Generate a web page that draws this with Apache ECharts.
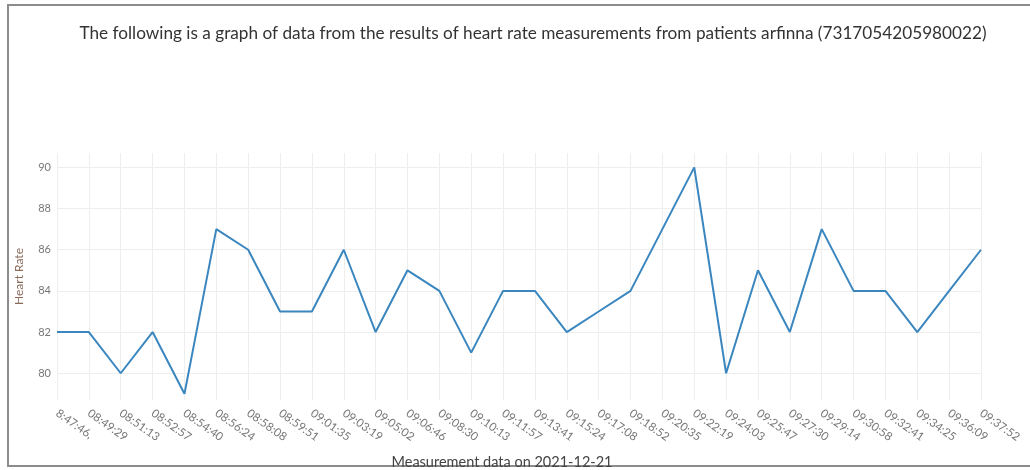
<!DOCTYPE html>
<html>
<head>
<meta charset="utf-8">
<script src="https://cdn.jsdelivr.net/npm/echarts@6/dist/echarts.min.js"></script>
<style>
html,body{margin:0;padding:0;background:#fff}
#chart{width:1030px;height:470px}
</style>
</head>
<body>
<div id="chart"></div>
<script>
// measurement times (x axis categories)
var times = ['8:47:46,','08:49:29','08:51:13','08:52:57','08:54:40','08:56:24','08:58:08','08:59:51',
	'09:01:35','09:03:19','09:05:02','09:06:46','09:08:30','09:10:13','09:11:57','09:13:41',
	'09:15:24','09:17:08','09:18:52','09:20:35','09:22:19','09:24:03','09:25:47','09:27:30',
	'09:29:14','09:30:58','09:32:41','09:34:25','09:36:09','09:37:52']
// heart rate values
var heartRate = [82,82,80,82,79,87,86,83,83,86,82,85,84,81,84,84,82,83,84,87,90,80,85,82,87,84,84,82,84,86]
var yTicks = [80,82,84,86,88,90]

var titleText = 'The following is a graph of data from the results of heart rate measurements from patients arfinna (7317054205980022)'
var font = 'Lato, "Open Sans", sans-serif'

var myChart = echarts.init(document.getElementById('chart'))
var option = {
	animation: false,
	title: [{
		text: titleText,
		left: 528,
		textAlign: 'center',
		top: 20,
		textStyle: {fontSize: 17.2, fontWeight: 'normal', color: '#333', fontFamily: font}
	},{
		text: 'Measurement data on 2021-12-21',
		left: 497,
		textAlign: 'center',
		top: 450,
		textStyle: {fontSize: 14.5, fontWeight: 'normal', color: '#444', fontFamily: font}
	}],
	graphic: [{
		type: 'rect',
		shape: {x: 8, y: 5, width: 1030, height: 461},
		style: {fill: 'none', stroke: '#8c8c8c', lineWidth: 2}
	}],
	grid: {left: 57, right: 49, top: 153, bottom: 70},
	xAxis: {
		type: 'category',
		boundaryGap: false,
		data: times,
		axisLine: {show: false},
		axisTick: {show: false},
		splitLine: {show: true, lineStyle: {color: '#eeeeee', width: 1}},
		axisLabel: {
			rotate: -35,
			interval: 0,
			margin: 12,
			fontSize: 11.5,
			color: '#777',
			fontFamily: font
		}
	},
	yAxis: {
		type: 'value',
		min: 78.7,
		max: 90.7,
		name: 'Heart Rate',
		nameLocation: 'middle',
		nameGap: 32,
		nameTextStyle: {fontSize: 12, color: '#8a6a5a', fontFamily: font},
		axisLine: {show: false},
		axisTick: {show: false, customValues: yTicks},
		splitLine: {show: true, lineStyle: {color: '#eeeeee', width: 1}},
		axisLabel: {customValues: yTicks, fontSize: 11, color: '#777', margin: 6, fontFamily: font}
	},
	series: [{
		type: 'line',
		data: heartRate,
		symbol: 'none',
		lineStyle: {color: '#3a86bf', width: 2}
	}]
}
myChart.setOption(option)
</script>
</body>
</html>
